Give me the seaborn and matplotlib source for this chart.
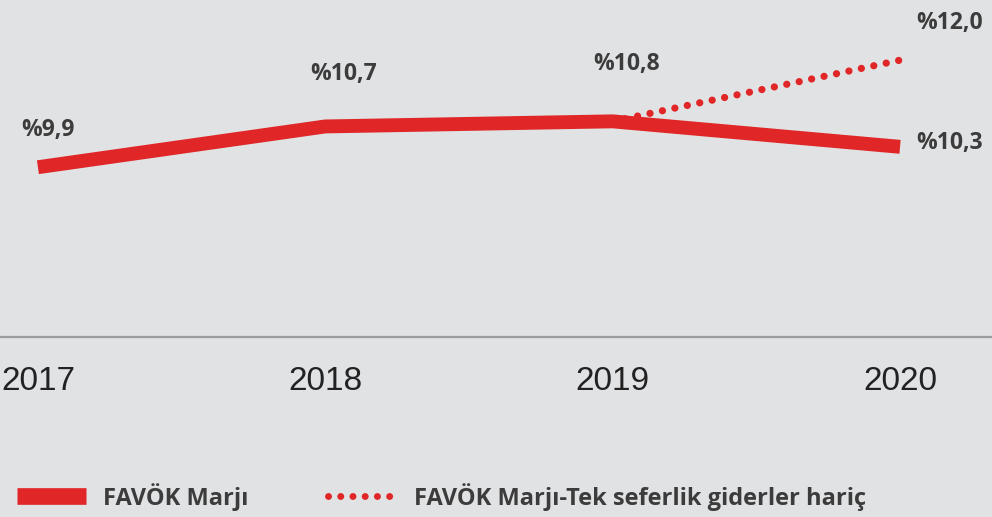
import numpy as np
import pandas as pd
import seaborn as sns
import matplotlib.pyplot as plt
from matplotlib.lines import Line2D

# data
years = ['2017', '2018', '2019', '2020']
favok = [9.9, 10.7, 10.8, 10.3]
favok_excl = [np.nan, np.nan, 10.8, 12.0]
labels_main = ['%9,9', '%10,7', '%10,8', '%10,3']
label_excl = '%12,0'

bg = '#e1e2e4'
red = '#e02626'
txt = '#3c3c3c'

sns.set_theme(style='white')
plt.rcParams['font.family'] = ['Open Sans', 'DejaVu Sans']

df = pd.DataFrame({'pos': range(len(years)), 'favok': favok, 'excl': favok_excl})

fig = plt.figure(figsize=(9.92, 5.17), dpi=100, facecolor=bg)
ax = fig.add_axes([0, 180 / 517, 1, 337 / 517])
ax.set_facecolor(bg)

dots = (0, (0.01, 1.75))
sns.lineplot(data=df, x='pos', y='excl', ax=ax, color=red, lw=5.2,
             linestyle=dots, dash_capstyle='round')
sns.lineplot(data=df, x='pos', y='favok', ax=ax, color=red, lw=10,
             solid_capstyle='butt', solid_joinstyle='miter')

ax.set_xlim(-0.132, 3.32)
ax.set_ylim(6.57, 13.18)
for s in ['top', 'left', 'right']:
    ax.spines[s].set_visible(False)
ax.spines['bottom'].set_color('#9c9c9c')
ax.spines['bottom'].set_linewidth(1.6)
ax.set_yticks([])
ax.set_xticks(range(len(years)))
ax.set_xticklabels(years, fontsize=24, color='#222222', family='Liberation Sans')
ax.tick_params(axis='x', length=0, pad=21)
ax.set_xlabel('')
ax.set_ylabel('')

# value labels (offsets in points)
offs = [(7, 27, 'center'), (13, 38, 'center'), (10, 41, 'center'), (12, 3, 'left')]
for i, (dx, dy, ha) in enumerate(offs):
    ax.annotate(labels_main[i], (i, favok[i]), xytext=(dx, dy), textcoords='offset points',
                ha=ha, va='center', fontsize=16.5, fontweight='bold', color=txt)
ax.annotate(label_excl, (3, favok_excl[3]), xytext=(12, 27), textcoords='offset points',
            ha='left', va='center', fontsize=16.5, fontweight='bold', color=txt)

handles = [Line2D([], [], color=red, lw=12, solid_capstyle='butt'),
           Line2D([], [], color=red, lw=5, linestyle=dots, dash_capstyle='round')]
leg = fig.legend(handles, ['FAVÖK Marjı', 'FAVÖK Marjı-Tek seferlik giderler hariç'],
                 loc='center left', bbox_to_anchor=(-0.004, 0.039), ncol=2, frameon=False,
                 prop={'size': 17, 'weight': 'bold'}, handlelength=2.9, handletextpad=0.72,
                 columnspacing=3.4)
for t in leg.get_texts():
    t.set_color(txt)

fig.savefig('out.png', dpi=100, facecolor=bg)
